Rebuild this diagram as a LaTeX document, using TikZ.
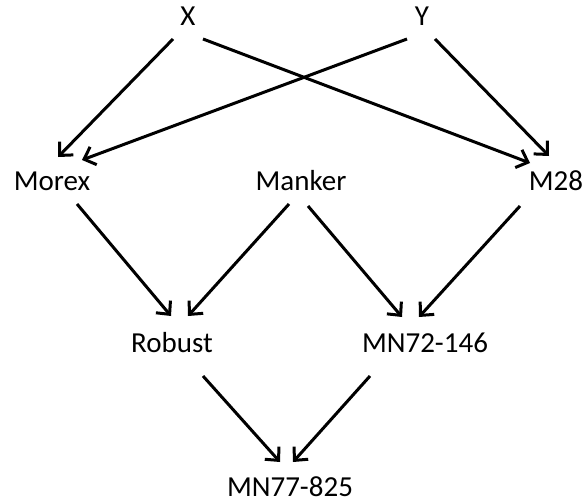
\documentclass[tikz,border=0pt]{standalone}
\usepackage{fontspec}
\setmainfont{Carlito}
\usetikzlibrary{arrows.meta}
\begin{document}
\begin{tikzpicture}[x=1pt,y=-1pt,
  lbl/.style={inner sep=0pt,anchor=base,font=\fontsize{29}{34}\selectfont},
  arr/.style={line width=3pt,-{Straight Barb[length=10pt,width=19pt,line width=3pt]}}]
\useasboundingbox (0,0) rectangle (584,503);
\node[lbl] (X) at (188,26) {X};
\node[lbl] (Y) at (422,26) {Y};
\node[lbl] (Morex) at (52,190) {Morex};
\node[lbl] (Manker) at (301,190) {Manker};
\node[lbl] (M28) at (556,190) {M28};
\node[lbl] (Robust) at (172,352) {Robust};
\node[lbl] (MN72) at (425,352) {MN72-146};
\node[lbl] (MN77) at (290,496) {MN77-825};
\draw[arr] ([xshift=-15pt,yshift=-13pt]X.base) -- ([xshift=6pt,yshift=33pt]Morex.base);
\draw[arr] ([xshift=15pt,yshift=-13pt]X.base) -- ([xshift=-26pt,yshift=27pt]M28.base);
\draw[arr] ([xshift=-15pt,yshift=-13pt]Y.base) -- ([xshift=30pt,yshift=30pt]Morex.base);
\draw[arr] ([xshift=13pt,yshift=-13pt]Y.base) -- ([xshift=-7pt,yshift=34pt]M28.base);
\draw[arr] ([xshift=25pt,yshift=-14pt]Morex.base) -- ([xshift=-1pt,yshift=36pt]Robust.base);
\draw[arr] ([xshift=-12pt,yshift=-14pt]Manker.base) -- ([xshift=16pt,yshift=36pt]Robust.base);
\draw[arr] ([xshift=7pt,yshift=-16pt]Manker.base) -- ([xshift=-23pt,yshift=35pt]MN72.base);
\draw[arr] ([xshift=-36pt,yshift=-16pt]M28.base) -- ([xshift=-6pt,yshift=35pt]MN72.base);
\draw[arr] ([xshift=31pt,yshift=-24pt]Robust.base) -- ([xshift=-10pt,yshift=34pt]MN77.base);
\draw[arr] ([xshift=-55pt,yshift=-24pt]MN72.base) -- ([xshift=3pt,yshift=34pt]MN77.base);
\end{tikzpicture}
\end{document}
